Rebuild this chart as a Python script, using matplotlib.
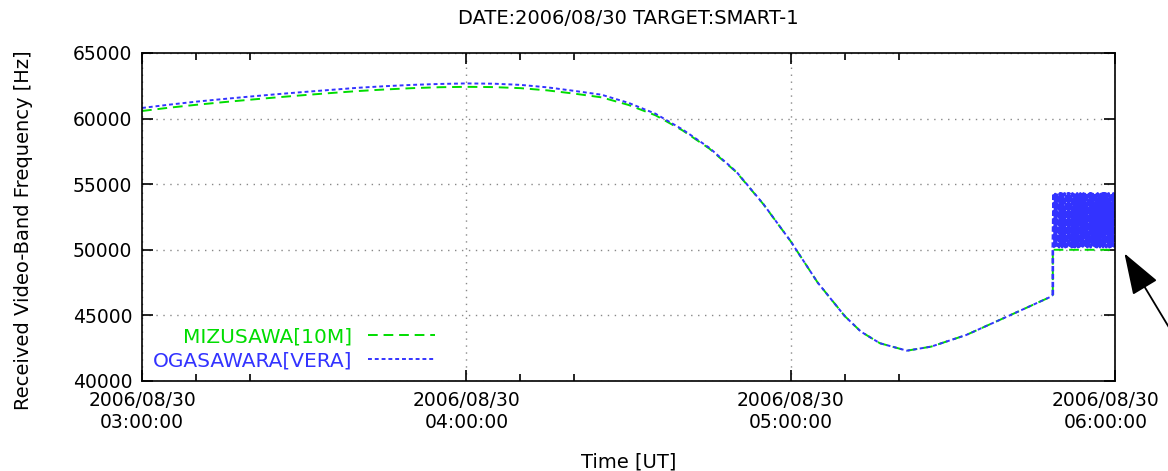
import datetime as dt
import matplotlib
matplotlib.use('Agg')
import matplotlib.pyplot as plt
import matplotlib.dates as mdates
from matplotlib.transforms import ScaledTranslation
import numpy as np

plt.rcParams['font.family'] = 'DejaVu Sans'

start = dt.datetime(2006, 8, 30, 3, 0, 0)

# minutes after 03:00 UT
minutes = [0, 5, 10, 15, 20, 25, 30, 35, 40, 45, 50, 55, 60, 65, 70, 75,
           80, 85, 90, 95, 100, 105, 110, 115, 120, 125, 130, 133, 136.5,
           141.5, 146, 152.5, 160, 168, 168.5]
mizusawa = [60580, 60830, 61050, 61250, 61440, 61620, 61790, 61950, 62100,
            62220, 62320, 62390, 62420, 62400, 62320, 62150, 61900, 61620,
            61040, 60250, 59100, 57700, 55900, 53450, 50650, 47500, 44950,
            43760, 42880, 42310, 42620, 43510, 44900, 46400, 46550]
ogasawara = [60810, 61060, 61290, 61490, 61680, 61860, 62030, 62190, 62350,
             62470, 62570, 62640, 62680, 62660, 62570, 62380, 62110, 61820,
             61200, 60370, 59170, 57760, 55930, 53460, 50650, 47500, 44950,
             43760, 42880, 42310, 42620, 43510, 44900, 46400, 46550]

# after the jump at ~05:48
mizusawa_tail_min = [168.5, 180]
mizusawa_tail = [50000, 50000]
ogasawara_burst = [
    50200, 54300, 50250, 54250, 50200, 54300, 50300, 54200, 50200, 54300,
    50250, 54300, 50200, 54250, 50300, 54300, 50200, 54200, 50250, 54300,
    50200, 54300, 50300, 54250, 50200, 54300, 50250, 54200, 50200, 54300,
    50300, 54300, 50200, 54250, 50250, 54300, 50200, 54300, 50250, 54300,
    50200, 54250, 50300, 54300, 50200, 54200, 50250, 54300, 50200, 54300,
    50300, 54250, 50200, 54300, 50250, 54200, 50200, 54300, 50300, 54300,
    50200, 54250, 50250, 54300, 50200, 54300, 50250, 54300, 50200, 54250,
    50300, 54300, 50200, 54200, 50250, 54300, 50200, 54300, 50250, 54300,
]

def to_time(mins):
    return [start + dt.timedelta(minutes=m) for m in mins]

burst_min = np.linspace(168.5, 180, len(ogasawara_burst))

fig = plt.figure(figsize=(11.68, 4.71), dpi=100)
ax = fig.add_axes([0.1216, 0.1911, 0.8330, 0.6964])

green = '#00dd00'
blue = '#3333ff'

t_m = to_time(minutes + mizusawa_tail_min)
ax.plot(t_m, mizusawa + mizusawa_tail, color=green, lw=1.4,
        linestyle=(0, (5, 3)), label='MIZUSAWA[10M]')
ax.plot(to_time(minutes), ogasawara, color=blue, lw=1.4,
        linestyle=(0, (2, 1.5)), label='OGASAWARA[VERA]')
# fast hopping section, drawn a bit heavier so it fills in
ax.plot(to_time([minutes[-1]] + list(burst_min)),
        [ogasawara[-1]] + ogasawara_burst, color=blue, lw=1.9,
        linestyle=(0, (2, 1)))

ax.set_xlim(start, start + dt.timedelta(hours=3))
ax.set_ylim(40000, 65000)
ax.set_yticks(range(40000, 65001, 5000))
ax.xaxis.set_major_locator(mdates.HourLocator())
ax.xaxis.set_minor_locator(mdates.MinuteLocator(byminute=[10, 20]))
ax.xaxis.set_major_formatter(mdates.DateFormatter('%Y/%m/%d\n%H:%M:%S'))

ax.tick_params(which='both', direction='in', top=True, right=True,
               labelsize=13.5, colors='black')
ax.tick_params(which='major', length=8, width=1.2, pad=7)
ax.tick_params(which='minor', length=5, width=1.2)
for sp in ax.spines.values():
    sp.set_linewidth(1.2)

ax.grid(True, which='major', color='#888888', linestyle=(0, (1, 4)), lw=1)

ax.set_xlabel('Time [UT]', fontsize=14, labelpad=15)
ax.set_ylabel('Received Video-Band Frequency [Hz]', fontsize=14)
ax.yaxis.set_label_coords(-0.112, 0.46)
ax.set_title('DATE:2006/08/30 TARGET:SMART-1', fontsize=14, pad=21)

ax.legend(loc='center right', bbox_to_anchor=(0.301, 0.0976),
          frameon=False, markerfirst=False, labelcolor='linecolor',
          fontsize=14.5, handlelength=3.3, handletextpad=0.8,
          labelspacing=0.25, borderpad=0, borderaxespad=0)

ax.annotate('', xy=(1123, 220), xytext=(1182, 122),
            xycoords='figure pixels', textcoords='figure pixels',
            annotation_clip=False,
            arrowprops=dict(arrowstyle='-|>,head_length=1.3,head_width=0.45',
                            color='black', lw=1.3, mutation_scale=20))

# keep the 06:00 label inside the canvas
fig.canvas.draw()
last = ax.xaxis.get_major_ticks()[-1].label1
last.set_transform(last.get_transform()
                   + ScaledTranslation(-7 / 72, 0, fig.dpi_scale_trans))

fig.savefig('out.png', dpi=100)
